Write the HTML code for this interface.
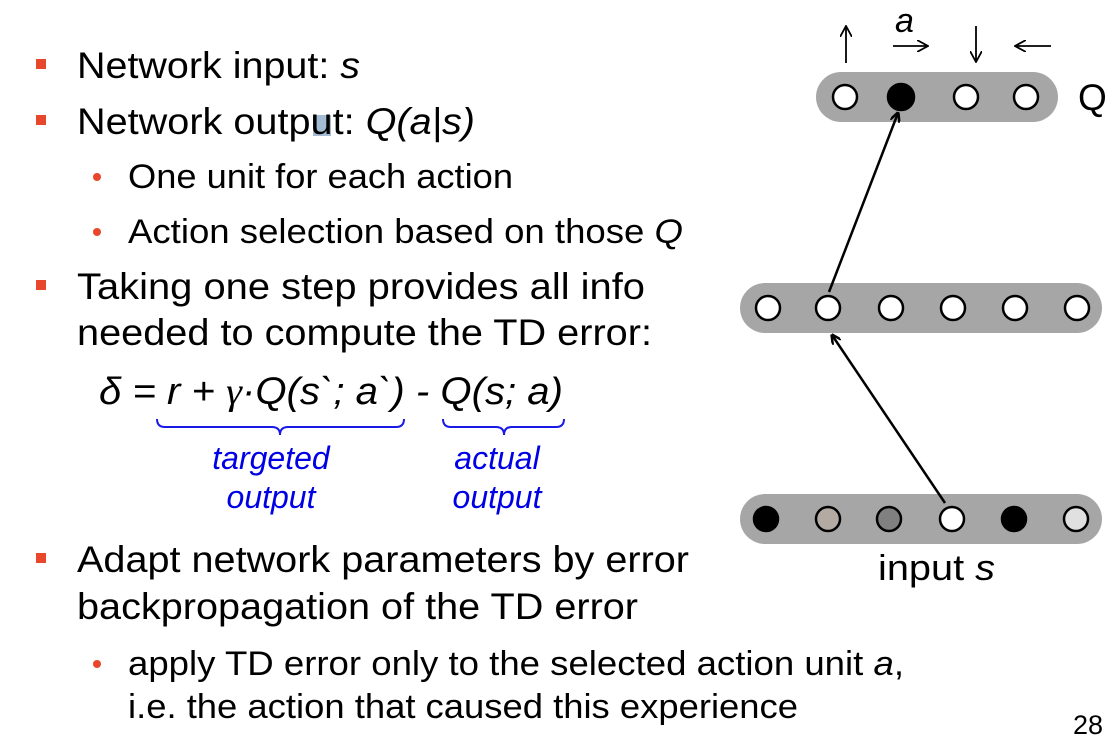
<!DOCTYPE html>
<html><head><meta charset="utf-8"><style>
html,body{margin:0;padding:0;background:#fff;}
svg{display:block;}
text{font-family:"Liberation Sans",Arial,sans-serif;}
</style></head><body>
<svg width="1114" height="754" viewBox="0 0 1114 754" xmlns="http://www.w3.org/2000/svg">
<defs>
<marker id="ah" markerWidth="10" markerHeight="10" refX="9" refY="5" orient="auto" markerUnits="userSpaceOnUse">
<path d="M0,0 L10,5 L0,10" fill="none" stroke="#000" stroke-width="2.5"/>
</marker>
<marker id="sa" markerWidth="12" markerHeight="12" refX="11" refY="6" orient="auto" markerUnits="userSpaceOnUse">
<path d="M0,0 L11,6 L0,12" fill="none" stroke="#000" stroke-width="1.8"/>
</marker>
</defs>
<g fill="#e8472b">
<rect x="36" y="59" width="10" height="10"/>
<rect x="36" y="115" width="10" height="10"/>
<rect x="36" y="280" width="10" height="10"/>
<rect x="36" y="553" width="10" height="10"/>
<circle cx="97" cy="177" r="4"/>
<circle cx="97" cy="232" r="4"/>
<circle cx="97" cy="664" r="4"/>
</g>
<rect x="313" y="115" width="18" height="21" fill="#a3bcd4"/>
<g font-size="37" fill="#000">
<text x="77" y="78" textLength="283" lengthAdjust="spacingAndGlyphs">Network input: <tspan font-style="italic">s</tspan></text>
<text x="77" y="134" textLength="398" lengthAdjust="spacingAndGlyphs">Network output: <tspan font-style="italic">Q(a|s)</tspan></text>
<text x="77" y="299" textLength="568" lengthAdjust="spacingAndGlyphs">Taking one step provides all info</text>
<text x="77" y="345" textLength="575" lengthAdjust="spacingAndGlyphs">needed to compute the TD error:</text>
<text x="77" y="572" textLength="612" lengthAdjust="spacingAndGlyphs">Adapt network parameters by error</text>
<text x="77" y="619" textLength="561" lengthAdjust="spacingAndGlyphs">backpropagation of the TD error</text>
</g>
<g font-size="34" fill="#000">
<text x="128" y="188" textLength="385" lengthAdjust="spacingAndGlyphs">One unit for each action</text>
<text x="128" y="243" textLength="555" lengthAdjust="spacingAndGlyphs">Action selection based on those <tspan font-style="italic">Q</tspan></text>
<text x="128" y="675" textLength="776" lengthAdjust="spacingAndGlyphs">apply TD error only to the selected action unit <tspan font-style="italic">a</tspan>,</text>
<text x="128" y="718" textLength="670" lengthAdjust="spacingAndGlyphs">i.e. the action that caused this experience</text>
</g>
<text x="99" y="404" font-size="38" font-style="italic" textLength="464" lengthAdjust="spacingAndGlyphs">δ = r + <tspan font-family="Liberation Serif,serif">γ</tspan>·Q(s`; a`) - Q(s; a)</text>
<g fill="none" stroke="#1a1ae6" stroke-width="2">
<path d="M157,419 q0,8 8,8 L272,427 q8,0 8,8 q0,-8 8,-8 L396,427 q8,0 8,-8"/>
<path d="M443,419 q0,8 8,8 L496,427 q8,0 8,8 q0,-8 8,-8 L556,427 q8,0 8,-8"/>
</g>
<g font-size="32" font-style="italic" fill="#0000e6" text-anchor="middle">
<text x="271" y="469">targeted</text>
<text x="271" y="508">output</text>
<text x="497" y="469">actual</text>
<text x="497" y="508">output</text>
</g>
<text x="1073" y="734" font-size="27">28</text>
<g fill="#a6a6a6">
<rect x="816" y="72" width="242" height="50" rx="25"/>
<rect x="740" y="283" width="362" height="50" rx="25"/>
<rect x="740" y="494" width="362" height="50" rx="25"/>
</g>
<g stroke="#000" stroke-width="2.5" fill="#fff">
<circle cx="845" cy="97" r="12"/>
<circle cx="901" cy="97" r="13" fill="#000"/>
<circle cx="966" cy="97" r="12"/>
<circle cx="1026" cy="97" r="12"/>
<circle cx="768" cy="308" r="12"/>
<circle cx="828" cy="308" r="12"/>
<circle cx="891" cy="308" r="12"/>
<circle cx="953" cy="308" r="12"/>
<circle cx="1015" cy="308" r="12"/>
<circle cx="1077" cy="308" r="12"/>
<circle cx="766" cy="519" r="12" fill="#000"/>
<circle cx="828" cy="519" r="12" fill="#b3aba3"/>
<circle cx="889" cy="519" r="12" fill="#808080"/>
<circle cx="952" cy="519" r="12"/>
<circle cx="1014" cy="519" r="12" fill="#000"/>
<circle cx="1076" cy="519" r="12" fill="#e0e0e0"/>
</g>
<g stroke="#000" stroke-width="2.5">
<line x1="945" y1="503" x2="832" y2="335" marker-end="url(#ah)"/>
<line x1="829" y1="292" x2="898" y2="113" marker-end="url(#ah)"/>
</g>
<g stroke="#000" stroke-width="1.8">
<line x1="846" y1="63" x2="846" y2="26" marker-end="url(#sa)"/>
<line x1="893" y1="46" x2="928" y2="46" marker-end="url(#sa)"/>
<line x1="976" y1="26" x2="976" y2="62" marker-end="url(#sa)"/>
<line x1="1051" y1="46" x2="1015" y2="46" marker-end="url(#sa)"/>
</g>
<text x="895" y="32" font-size="34" font-style="italic">a</text>
<text x="1078" y="110" font-size="37">Q</text>
<text x="878" y="580" font-size="36" textLength="117" lengthAdjust="spacingAndGlyphs">input <tspan font-style="italic">s</tspan></text>
</svg>
</body></html>
